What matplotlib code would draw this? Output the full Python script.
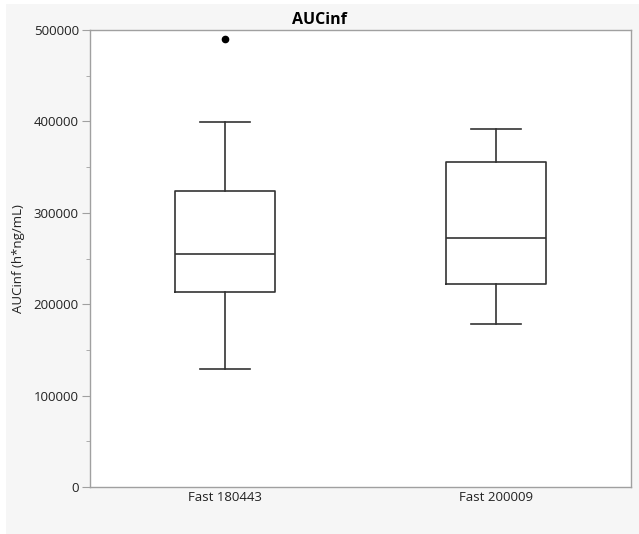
import numpy as np
import matplotlib.pyplot as plt
from matplotlib.patches import Rectangle
from matplotlib.ticker import MultipleLocator

# Values
groups = ['Fast 180443', 'Fast 200009']
whislo = [129400, 178300]
q1 = [213000, 221800]
med = [254600, 272800]
q3 = [323900, 355600]
whishi = [399000, 391300]
fliers = [[489800], []]

stats = []
for i, g in enumerate(groups):
    stats.append(dict(label=g, whislo=whislo[i], q1=q1[i], med=med[i],
                      q3=q3[i], whishi=whishi[i], fliers=fliers[i]))

plt.rcParams['font.family'] = ['Open Sans', 'DejaVu Sans']

W, H = 639, 534
fig = plt.figure(figsize=(W / 100, H / 100), dpi=100, facecolor='white')
fig.patches.append(Rectangle((6 / W, 0), 1 - 6 / W, 1 - 4 / H, transform=fig.transFigure,
                             facecolor='#f6f6f6', edgecolor='none', zorder=-10))

ax = fig.add_axes([90 / W, 1 - 487 / H, 541 / W, 457 / H])
ax.set_facecolor('white')

lc = '#333333'
ax.bxp(stats, positions=[0, 1], widths=0.37, showfliers=True,
       boxprops=dict(color=lc, linewidth=1.2),
       whiskerprops=dict(color=lc, linewidth=1.2),
       capprops=dict(color=lc, linewidth=1.2),
       medianprops=dict(color=lc, linewidth=1.2),
       flierprops=dict(marker='o', markerfacecolor='black', markeredgecolor='black',
                       markersize=4.5))
ax.set_xlim(-0.5, 1.5)
ax.set_ylim(0, 500000)

for s in ax.spines.values():
    s.set_color('#a0a0a0')
    s.set_linewidth(1.0)

ax.yaxis.set_major_locator(MultipleLocator(100000))
ax.yaxis.set_minor_locator(MultipleLocator(50000))
ax.tick_params(axis='y', which='major', length=6, color='#a0a0a0', labelsize=9.5,
               labelcolor='#222222', pad=2)
ax.tick_params(axis='y', which='minor', length=3, color='#a0a0a0')
ax.tick_params(axis='x', length=0, labelsize=9.5, labelcolor='#222222', pad=3)

ax.set_ylabel('AUCinf (h*ng/mL)', fontsize=9.5, color='#222222', labelpad=6)
fig.text(0.5, 1 - 24 / H, 'AUCinf', fontsize=11.5, fontweight='bold', color='black',
         ha='center', va='baseline')

fig.savefig('out.png', dpi=100, facecolor=fig.get_facecolor())
